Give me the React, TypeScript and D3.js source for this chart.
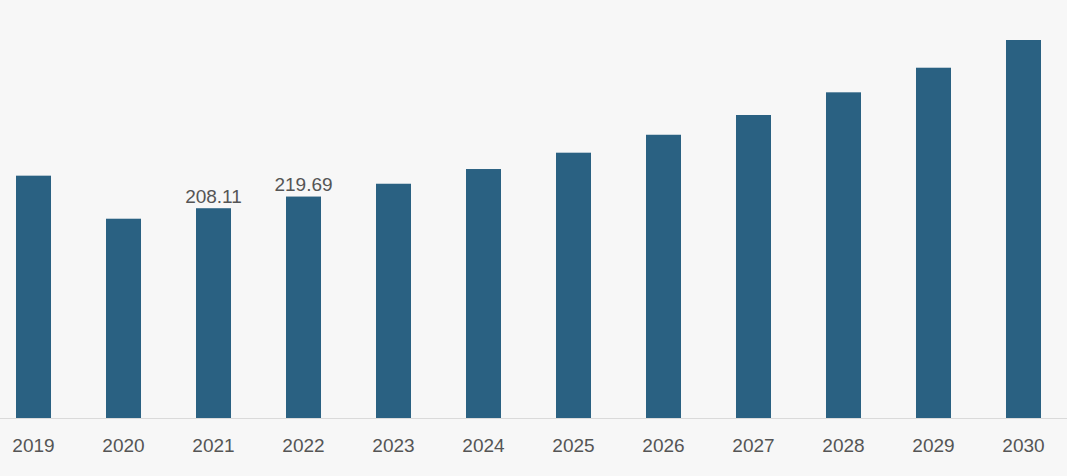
import React from "react";
import * as d3 from "d3";

const years = ["2019", "2020", "2021", "2022", "2023", "2024", "2025", "2026", "2027", "2028", "2029", "2030"];
const values = [240.4, 197.7, 208.11, 219.69, 232.4, 247.0, 263.2, 281.0, 300.6, 323.1, 347.5, 375.0];
const shownLabels = ["2021", "2022"];

const W = 1067;
const H = 476;
const baseY = 418;

export default function App() {
  const x = d3
    .scaleBand<string>()
    .domain(years)
    .range([-11.5, 1068.5])
    .paddingInner(0.6111)
    .paddingOuter(0.3056);
  const y = d3.scaleLinear().domain([0, 375]).range([baseY, 40]);
  const font = "'Liberation Sans', Arial, Helvetica, sans-serif";
  return (
    <div style={{ position: "absolute", left: 0, top: 0 }}>
      <svg width={W} height={H} style={{ display: "block" }}>
        <rect x={0} y={0} width={W} height={H} fill="#f7f7f7" />
        {years.map((yr, i) => (
          <rect
            key={yr}
            x={x(yr)!}
            y={y(values[i])}
            width={x.bandwidth()}
            height={baseY - y(values[i])}
            fill="#2a6182"
          />
        ))}
        <line x1={0} x2={W} y1={baseY + 0.5} y2={baseY + 0.5} stroke="#dadada" strokeWidth={1} />
        {years.map((yr) => (
          <text
            key={"t" + yr}
            x={x(yr)! + x.bandwidth() / 2}
            y={452}
            textAnchor="middle"
            fontFamily={font}
            fontSize={19}
            fill="#555"
          >
            {yr}
          </text>
        ))}
        {years.map((yr, i) =>
          shownLabels.includes(yr) ? (
            <text
              key={"v" + yr}
              x={x(yr)! + x.bandwidth() / 2}
              y={y(values[i]) - 5.5}
              textAnchor="middle"
              fontFamily={font}
              fontSize={19}
              fill="#555"
            >
              {values[i].toFixed(2)}
            </text>
          ) : null
        )}
      </svg>
    </div>
  );
}
